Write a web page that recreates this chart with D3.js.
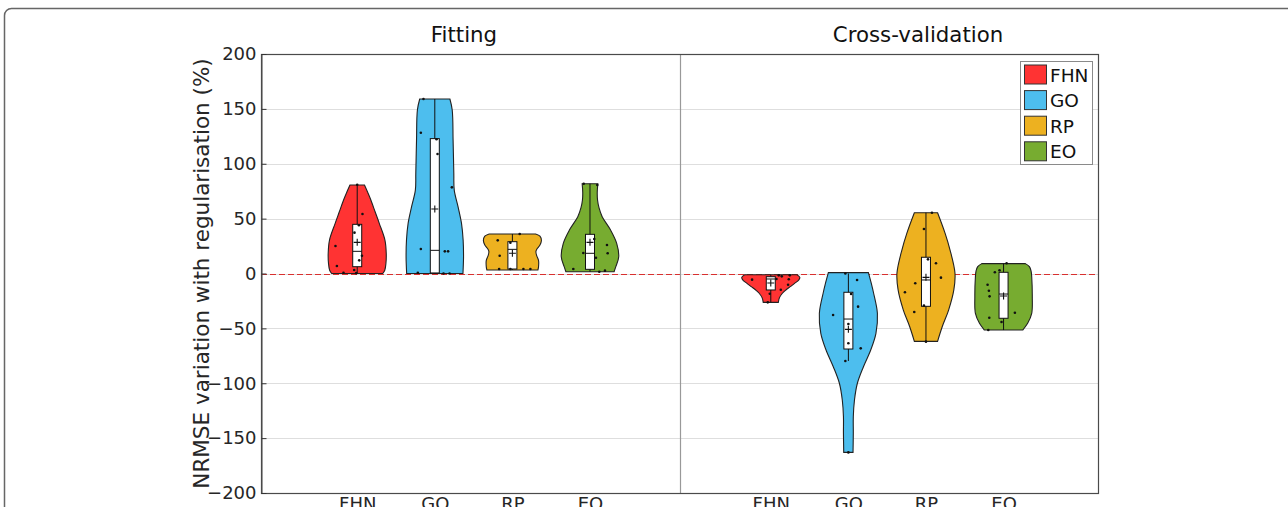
<!DOCTYPE html>
<html>
<head>
<meta charset="utf-8">
<script src="https://cdn.jsdelivr.net/npm/d3@7"></script>
<style>
  body { margin: 0; background: #fff; }
  svg { display: block; }
  text { font-family: "DejaVu Sans", Verdana, sans-serif; }
</style>
</head>
<body>
<script>
// ---- data ---------------------------------------------------------------
const categories = ["FHN", "GO", "RP", "EO"];
const panelTitles = ["Fitting", "Cross-validation"];
const yTicks = [-200, -150, -100, -50, 0, 50, 100, 150, 200];
const yLabel = "NRMSE variation with regularisation (%)";

// individual runs: [NRMSE variation %, horizontal jitter in category units]
const fittingPoints = [
  [[80.9, 0], [54.2, 0.068], [43.9, 0.022], [37.2, -0.035], [25.1, -0.28], [16.2, 0.061],
   [12, 0.026], [6.8, -0.262], [3.2, -0.039], [0.7, -0.177], [0.3, -0.013]],
  [[159, -0.146], [128.3, -0.18], [122.3, 0.022], [108.9, 0.035], [78.5, 0.22], [22.3, -0.18],
   [20.2, 0.129], [20.2, 0.171], [0.7, -0.219], [0, 0.112], [0, 0.19]],
  [[36, 0.094], [30.2, -0.189], [28.1, -0.026], [16.2, -0.164], [4.1, -0.171], [4.1, -0.026],
   [4.1, 0.142], [4.1, 0.232]],
  [[81.8, -0.081], [80.6, 0.094], [31.4, 0.055], [26, 0.219], [18.7, -0.086], [18.4, 0.228],
   [14.4, 0.077], [4.1, -0.215], [2.6, 0.193], [1.6, 0.12]]
];
const crossValPoints = [
  [[-1.7, 0.103], [-2.6, 0.142], [-1.7, 0.245], [-5, 0.073], [-5.3, 0.232], [-5.6, -0.241],
   [-10.2, 0.223], [-14.8, 0.129], [-18.4, -0.013], [-26.3, -0.039]],
  [[0, -0.039], [-5.9, 0.112], [-18.7, 0.035], [-30.2, 0.125], [-37.8, -0.197], [-46, 0],
   [-63.6, 0], [-68.2, 0.159], [-79.7, -0.039], [-163, 0]],
  [[55.4, 0.077], [40.5, -0.026], [12.9, 0.026], [9.3, 0.129], [-3.8, 0.193], [-8.9, -0.138],
   [-17.1, -0.271], [-29.3, -0.026], [-35.1, -0.151], [-62.1, 0]],
  [[9.3, 0.039], [1.1, -0.112], [2.9, -0.052], [-10.2, -0.206], [-15.7, -0.189], [-20.8, -0.18],
   [-35.7, 0.146], [-40.3, -0.184], [-44.2, -0.026], [-51.5, -0.197]]
];

// box summaries: [lower whisker, Q1, median, Q3, upper whisker, mean]
const fittingBoxes = [
  [0, 6.2, 20.2, 44.8, 80.6, 28.4],
  [0, 0.5, 21.1, 122.9, 159, 58.8],
  [3.2, 4.1, 22, 29, 36, 18.4],
  [1.6, 3.8, 18.4, 35.7, 81.8, 28.4]
];
const crossValBoxes = [
  [-26.3, -15, -5, -2.9, -1.4, -8.7],
  [-79.7, -68.8, -41.5, -17.1, 0, -50.9],
  [-61.8, -29.9, -5.9, 14.8, 55.4, -3.5],
  [-51.5, -40.8, -18.7, 1.1, 9, -20.5]
];

// kernel density profiles: [value, density relative to the peak]
const fittingDensity = [
  [[80.6, 0.25], [74, 0.36], [67, 0.47], [56, 0.62], [45.7, 0.76], [30.5, 0.955], [18.4, 1],
   [9.3, 0.99], [3, 0.95], [0, 0.88]],
  [[159, 0.52], [149, 0.6], [121.6, 0.63], [91.3, 0.655], [76, 0.67], [61, 0.8], [45.7, 0.92],
   [30.5, 0.976], [15.3, 0.99], [0, 0.97]],
  [[36, 0.8], [34, 0.95], [30, 1], [26, 0.95], [22, 0.84], [19.9, 0.81], [16, 0.84], [12, 0.9],
   [6, 0.9], [3.2, 0.88]],
  [[81.8, 0.27], [74, 0.25], [67, 0.26], [60, 0.31], [51.8, 0.42], [39.6, 0.71], [27.5, 0.92],
   [15.3, 0.99], [6.2, 0.89], [1.6, 0.83]]
];
const crossValDensity = [
  [[-1.2, 0.9], [-3.6, 1], [-6, 0.96], [-9, 0.82], [-12, 0.67], [-15, 0.52], [-18, 0.4],
   [-22, 0.3], [-26.3, 0.26]],
  [[0.8, 0.69], [-9, 0.79], [-18, 0.87], [-36.3, 1], [-54.5, 0.95], [-69.7, 0.77], [-84.9, 0.52],
   [-100, 0.31], [-115.3, 0.21], [-130.5, 0.17], [-145.6, 0.17], [-163, 0.16]],
  [[55.4, 0.4], [36.6, 0.66], [21.4, 0.83], [0.2, 1], [-15, 0.96], [-33.3, 0.78], [-48.5, 0.56],
   [-61.8, 0.4]],
  [[9, 0.75], [6.2, 0.89], [2, 0.95], [-2.9, 0.97], [-21.1, 0.99], [-36.3, 0.97], [-45.4, 0.83],
   [-51.5, 0.66]]
];

// ---- layout & style -----------------------------------------------------
const W = 1288, H = 507;
const frame = { left: 261, right: 1099, top: 54, bottom: 493, split: 680 };
const colours = ["#FF3333", "#4DBEEE", "#EDB120", "#77AC30"];
const violinHalf = 0.374;   // peak half-width, category units
const boxHalf = 0.058;

const svg = d3.select("body").append("svg").attr("width", W).attr("height", H);

// outer figure border
svg.append("rect")
  .attr("x", 4.5).attr("y", 8.5).attr("width", 1290).attr("height", 540)
  .attr("rx", 7).attr("fill", "none").attr("stroke", "#666").attr("stroke-width", 1.5);

const y = d3.scaleLinear().domain([-200, 200]).range([frame.bottom, frame.top]);
const panels = [
  { title: panelTitles[0], titleX: 464, points: fittingPoints, boxes: fittingBoxes, density: fittingDensity,
    x: d3.scaleLinear().domain([-0.24, 5.16]).range([frame.left, frame.split]) },
  { title: panelTitles[1], titleX: 918, points: crossValPoints, boxes: crossValBoxes, density: crossValDensity,
    x: d3.scaleLinear().domain([-0.17, 5.23]).range([frame.split, frame.right]) }
];

// horizontal grid
svg.append("g").selectAll("line")
  .data(yTicks.filter(t => t > -200 && t < 200))
  .join("line")
  .attr("x1", frame.left).attr("x2", frame.right)
  .attr("y1", d => Math.round(y(d)) + 0.5).attr("y2", d => Math.round(y(d)) + 0.5)
  .attr("stroke", "#dedede").attr("stroke-width", 1);

// zero reference
svg.append("line")
  .attr("x1", frame.left).attr("x2", frame.right)
  .attr("y1", Math.round(y(0)) + 0.5).attr("y2", Math.round(y(0)) + 0.5)
  .attr("stroke", "#d8302f").attr("stroke-width", 1).attr("stroke-dasharray", "6,3");

// panel divider
svg.append("line")
  .attr("x1", frame.split + 0.5).attr("x2", frame.split + 0.5)
  .attr("y1", frame.top).attr("y2", frame.bottom)
  .attr("stroke", "#999").attr("stroke-width", 1.2);

panels.forEach(p => {
  const x = p.x;
  const g = svg.append("g");

  categories.forEach((cat, i) => {
    const pos = i + 1;
    const area = d3.area()
      .curve(d3.curveCatmullRom.alpha(0.5))
      .y(d => y(d[0]))
      .x0(d => x(pos - d[1] * violinHalf))
      .x1(d => x(pos + d[1] * violinHalf));

    g.append("path")
      .attr("d", area(p.density[i]))
      .attr("fill", colours[i])
      .attr("stroke", "#222").attr("stroke-width", 1.1);

    const [lo, q1, med, q3, hi, mean] = p.boxes[i];
    // whisker
    g.append("line")
      .attr("x1", x(pos)).attr("x2", x(pos))
      .attr("y1", y(lo)).attr("y2", y(hi))
      .attr("stroke", "#111").attr("stroke-width", 1);
    // interquartile box
    g.append("rect")
      .attr("x", x(pos - boxHalf)).attr("width", x(pos + boxHalf) - x(pos - boxHalf))
      .attr("y", y(q3)).attr("height", y(q1) - y(q3))
      .attr("fill", "#fff").attr("stroke", "#111").attr("stroke-width", 1);
    // median
    g.append("line")
      .attr("x1", x(pos - boxHalf)).attr("x2", x(pos + boxHalf))
      .attr("y1", y(med)).attr("y2", y(med))
      .attr("stroke", "#111").attr("stroke-width", 1);
    // observations
    g.append("g").selectAll("circle")
      .data(p.points[i])
      .join("circle")
      .attr("cx", d => x(pos + d[1]))
      .attr("cy", d => y(d[0]))
      .attr("r", 1.3)
      .attr("fill", "#111");
    // mean marker
    const mx = x(pos), my = y(mean);
    g.append("path")
      .attr("d", `M${mx - 3.5},${my}H${mx + 3.5}M${mx},${my - 3.5}V${my + 3.5}`)
      .attr("stroke", "#111").attr("stroke-width", 1.1);
  });

  // category labels
  const xAxis = d3.axisBottom(x)
    .tickValues([1, 2, 3, 4])
    .tickFormat(d => categories[d - 1])
    .tickSize(0).tickPadding(4);
  const ax = svg.append("g")
    .attr("transform", `translate(0,${frame.bottom})`)
    .call(xAxis);
  ax.select(".domain").remove();
  ax.selectAll("text")
    .attr("font-size", 18).attr("fill", "#262626")
    .attr("font-family", "DejaVu Sans, sans-serif")
    .attr("dy", null).attr("y", 17);

  // panel title
  svg.append("text")
    .attr("x", p.titleX).attr("y", 42)
    .attr("text-anchor", "middle")
    .attr("font-size", 21.3).attr("fill", "#111")
    .text(p.title);
});

// plot frame
svg.append("rect")
  .attr("x", frame.left + 0.5).attr("y", frame.top + 0.5)
  .attr("width", frame.right - frame.left - 1).attr("height", frame.bottom - frame.top)
  .attr("fill", "none").attr("stroke", "#4a4a4a").attr("stroke-width", 1.2);

// value axis
const yAxis = d3.axisLeft(y).tickValues(yTicks).tickSize(-5).tickPadding(5);
const ay = svg.append("g")
  .attr("transform", `translate(${frame.left + 0.5},0)`)
  .call(yAxis);
ay.select(".domain").attr("stroke", "#4a4a4a");
ay.selectAll(".tick line").attr("stroke", "#333");
ay.selectAll("text")
  .attr("font-size", 18).attr("fill", "#262626")
  .attr("font-family", "DejaVu Sans, sans-serif");

// value axis title
svg.append("text")
  .attr("transform", `translate(209,${(frame.top + frame.bottom) / 2}) rotate(-90)`)
  .attr("text-anchor", "middle")
  .attr("font-size", 21.5).attr("fill", "#262626")
  .text(yLabel);

// legend
const legend = svg.append("g").attr("transform", "translate(1020,61)");
legend.append("rect")
  .attr("x", 0.5).attr("y", 0.5).attr("width", 72).attr("height", 103)
  .attr("fill", "#fff").attr("stroke", "#8a8a8a").attr("stroke-width", 1);
categories.forEach((cat, i) => {
  const row = legend.append("g").attr("transform", `translate(4,${3.5 + i * 25.6})`);
  row.append("rect")
    .attr("x", 0.5).attr("y", 0.5).attr("width", 22).attr("height", 19)
    .attr("fill", colours[i]).attr("stroke", "#333").attr("stroke-width", 1);
  row.append("text")
    .attr("x", 26).attr("y", 17)
    .attr("font-size", 18.5).attr("fill", "#111")
    .text(cat);
});
</script>
</body>
</html>
